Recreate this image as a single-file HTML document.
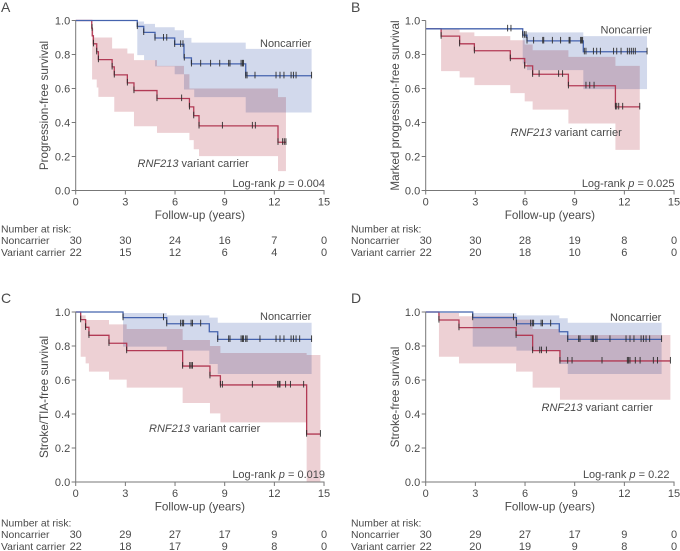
<!DOCTYPE html>
<html lang="en">
<head>
<meta charset="utf-8">
<title>Kaplan-Meier survival curves</title>
<style>
html,body{margin:0;padding:0;background:#fff;}
svg{display:block;font-family:"Liberation Sans",sans-serif;fill:#4a4a4a;}
</style>
</head>
<body>
<svg id="chart" xmlns="http://www.w3.org/2000/svg" width="680" height="551" viewBox="0 0 680 551"></svg>
<script>
const xTicks = [0, 3, 6, 9, 12, 15];
const yTicks = [0, 0.2, 0.4, 0.6, 0.8, 1.0];

// Panel A
const aNonTimes = [0, 3.72, 4.11, 4.79, 5.98, 6.54, 6.99, 10.27, 14.25];
const aNonSurv = [1, 0.965, 0.93, 0.897, 0.86, 0.78, 0.745, 0.675, 0.675];
const aNonBandTimes = [3.72, 4.13, 4.79, 5.98, 6.54, 6.99, 7.16, 10.27, 14.25];
const aNonUpper = [0.994, 0.98, 0.96, 0.943, 0.898, 0.87, 0.87, 0.833];
const aNonLower = [0.796, 0.767, 0.73, 0.684, 0.594, 0.594, 0.549, 0.459];
const aNonCensor = [3.72, 4.11, 4.79, 5.3, 5.5, 5.98, 6.34, 6.48, 6.56, 6.99, 7.55, 8.15, 8.7, 9.24, 9.32, 9.99, 10.07, 10.13, 10.27, 10.35, 10.83, 12.1, 12.34, 12.58, 13.01, 13.15, 13.31, 14.25];
const aVarTimes = [0, 0.97, 1.0, 1.07, 1.27, 1.37, 2.2, 2.33, 3.12, 3.52, 4.91, 6.87, 7.13, 7.45, 12.22, 12.7];
const aVarSurv = [1, 0.955, 0.91, 0.863, 0.816, 0.77, 0.727, 0.68, 0.633, 0.588, 0.541, 0.492, 0.44, 0.38, 0.284, 0.284];
const aVarBandTimes = [0.99, 1.07, 1.27, 1.37, 2.2, 2.33, 3.12, 3.52, 4.91, 6.54, 6.87, 7.13, 7.45, 12.22, 12.7];
const aVarUpper = [0.953, 0.9, 0.9, 0.9, 0.835, 0.835, 0.806, 0.767, 0.733, 0.684, 0.6, 0.6, 0.6, 0.549];
const aVarLower = [0.653, 0.653, 0.606, 0.551, 0.551, 0.463, 0.463, 0.378, 0.339, 0.339, 0.296, 0.243, 0.202, 0.114];
const aVarCensor = [0.99, 1.07, 1.27, 1.37, 2.2, 2.33, 3.12, 3.52, 4.91, 6.4, 6.87, 7.13, 7.45, 8.86, 10.67, 10.85, 12.22, 12.5, 12.6, 12.7];
const aRiskNon = [30, 30, 24, 16, 7, 0];
const aRiskVar = [22, 15, 12, 6, 4, 0];

// Panel B
const bNonTimes = [0, 5.86, 6.12, 9.52, 13.37];
const bNonSurv = [0.951, 0.914, 0.88, 0.816, 0.816];
const bNonBandTimes = [5.86, 6.12, 9.52, 13.37];
const bNonUpper = [0.93, 0.93, 0.908];
const bNonLower = [0.747, 0.708, 0.596];
const bNonCensor = [4.95, 5.15, 5.86, 5.96, 6.06, 6.12, 6.52, 7.07, 7.13, 7.65, 8.15, 8.66, 8.72, 9.36, 9.42, 9.48, 9.58, 9.68, 10.13, 10.33, 10.55, 11.35, 11.54, 11.8, 12.18, 12.3, 12.42, 12.54, 12.66, 13.37];
const bVarTimes = [0, 0.93, 2.05, 2.94, 5.11, 5.98, 6.46, 8.62, 11.46, 12.93];
const bVarSurv = [0.951, 0.908, 0.863, 0.822, 0.776, 0.733, 0.684, 0.616, 0.492, 0.492];
const bVarBandTimes = [0.93, 2.05, 2.94, 5.11, 5.98, 6.46, 8.62, 11.46, 12.93];
const bVarUpper = [0.951, 0.93, 0.908, 0.884, 0.859, 0.825, 0.786, 0.733];
const bVarLower = [0.702, 0.665, 0.62, 0.573, 0.524, 0.476, 0.394, 0.239];
const bVarCensor = [0.93, 2.05, 2.94, 5.11, 5.98, 6.46, 6.85, 8.03, 8.27, 8.62, 9.68, 9.91, 10.17, 11.46, 11.54, 11.66, 11.9, 12.93];
const bRiskNon = [30, 30, 28, 19, 8, 0];
const bRiskVar = [22, 20, 18, 10, 6, 0];

// Panel C
const cNonTimes = [0, 2.86, 5.5, 8.07, 8.58, 14.25];
const cNonSurv = [1, 0.967, 0.931, 0.884, 0.839, 0.839];
const cNonBandTimes = [2.86, 5.5, 8.07, 8.58, 14.25];
const cNonUpper = [0.994, 0.98, 0.967, 0.937];
const cNonLower = [0.796, 0.773, 0.694, 0.635];
const cNonCensor = [2.86, 5.3, 5.5, 6.34, 6.44, 6.52, 6.97, 7.05, 7.55, 8.58, 9.24, 9.32, 9.99, 10.07, 10.13, 10.27, 10.35, 11.13, 12.1, 12.34, 12.58, 13.01, 13.15, 13.31, 13.53, 14.25];
const cVarTimes = [0, 0.3, 0.6, 0.8, 2.01, 3.08, 6.46, 8.11, 8.74, 13.95, 14.78];
const cVarSurv = [1, 0.955, 0.91, 0.863, 0.816, 0.773, 0.682, 0.625, 0.571, 0.282, 0.282];
const cVarBandTimes = [0.3, 0.6, 0.8, 2.01, 3.08, 6.46, 8.11, 8.74, 13.95, 14.78];
const cVarUpper = [0.98, 0.953, 0.953, 0.927, 0.9, 0.835, 0.8, 0.759, 0.747];
const cVarLower = [0.737, 0.698, 0.649, 0.602, 0.555, 0.465, 0.404, 0.351, 0];
const cVarCensor = [0.3, 0.6, 0.8, 2.01, 3.08, 6.46, 6.89, 6.97, 7.05, 8.11, 8.74, 8.86, 10.67, 12.2, 12.28, 12.34, 12.68, 12.97, 13.77, 13.95, 14.78];
const cRiskNon = [30, 29, 27, 17, 9, 0];
const cRiskVar = [22, 18, 17, 9, 8, 0];

// Panel D
const dNonTimes = [0, 2.84, 5.48, 8.07, 8.58, 14.25];
const dNonSurv = [1, 0.967, 0.931, 0.884, 0.839, 0.839];
const dNonBandTimes = [2.84, 5.48, 8.07, 8.58, 14.25];
const dNonUpper = [0.994, 0.98, 0.963, 0.937];
const dNonLower = [0.796, 0.773, 0.694, 0.635];
const dNonCensor = [2.84, 5.3, 5.48, 6.34, 6.44, 6.52, 6.97, 7.05, 7.55, 8.58, 9.24, 9.32, 9.99, 10.07, 10.13, 10.27, 10.35, 11.13, 12.1, 12.34, 12.58, 13.01, 13.15, 13.31, 13.53, 14.25];
const dVarTimes = [0, 0.8, 2.01, 5.46, 6.46, 8.11, 14.78];
const dVarSurv = [1, 0.953, 0.908, 0.863, 0.773, 0.712, 0.712];
const dVarBandTimes = [0.8, 2.01, 5.46, 6.46, 8.11, 14.78];
const dVarUpper = [0.994, 0.975, 0.955, 0.9, 0.865];
const dVarLower = [0.737, 0.698, 0.649, 0.555, 0.484];
const dVarCensor = [0.8, 2.01, 5.46, 6.46, 6.89, 6.99, 7.29, 8.11, 8.58, 8.84, 10.65, 12.18, 12.26, 12.34, 12.66, 12.95, 13.75, 14.0, 14.78];
const dRiskNon = [30, 29, 27, 17, 9, 0];
const dRiskVar = [22, 20, 19, 9, 8, 0];

const svg = document.getElementById('chart');
const NS = 'http://www.w3.org/2000/svg';
const BLUE = '#4563ae', RED = '#b23a55', BLUEBAND = '#d2d9ec', REDBAND = '#edd0d4', AXIS = '#777', TXT = '#4a4a4a';

function make(tag, parent, attrs, text) {
  const el = document.createElementNS(NS, tag);
  for (const k in attrs) el.setAttribute(k, attrs[k]);
  if (text !== undefined) el.textContent = text;
  parent.appendChild(el);
  return el;
}
function label(parent, name, x, y, text, size, anchor) {
  const el = make('text', parent, {x: x, y: y, 'font-size': size, 'text-anchor': anchor || 'start', fill: TXT}, text);
  
  
  return el;
}

function drawBand(g, name, sx, sy, times, upper, lower, fill) {
  let top = '', bottom = '';
  for (let i = 0; i < upper.length; i++) {
    top += ' ' + sx(times[i]) + ',' + sy(upper[i]) + ' ' + sx(times[i + 1]) + ',' + sy(upper[i]);
    bottom = ' ' + sx(times[i + 1]) + ',' + sy(lower[i]) + ' ' + sx(times[i]) + ',' + sy(lower[i]) + bottom;
  }
  const band = make('polygon', g, {points: top + bottom, fill: fill, style: 'mix-blend-mode:multiply'});
  
  
}
function survAt(times, surv, t) {
  let s = surv[0];
  for (let i = 0; i < times.length; i++) if (times[i] <= t + 1e-6) s = surv[i];
  return s;
}
function drawCurve(g, name, sx, sy, times, surv, censor, color) {
  let d = 'M' + sx(times[0]) + ' ' + sy(surv[0]);
  for (let i = 1; i < times.length; i++) {
    d += ' H' + sx(times[i]) + ' V' + sy(surv[i]);
  }
  const line = make('path', g, {d: d, fill: 'none', stroke: color, 'stroke-width': 1.3});
  
  
  censor.forEach(function (t) {
    const yy = sy(survAt(times, surv, t));
    const tick = make('line', g, {x1: sx(t), x2: sx(t), y1: yy - 4, y2: yy + 2.6, stroke: '#2b2b2b', 'stroke-width': 0.9});
    
    
  });
}
function drawAxes(g, sx, sy, x0, y0, xLabelY, xTitleY) {
  const yAxis = make('line', g, {x1: x0, x2: x0, y1: sy(1), y2: y0, stroke: AXIS, 'stroke-width': 1});
  
  
  const xAxis = make('line', g, {x1: x0 - 4, x2: sx(15) + 0.5, y1: y0, y2: y0, stroke: AXIS, 'stroke-width': 1});
  
  
  yTicks.forEach(function (v) {
    const t = make('line', g, {x1: x0 - 4, x2: x0, y1: sy(v), y2: sy(v), stroke: AXIS, 'stroke-width': 1});
    
    
    label(g, 'y-tick-label', x0 - 5.5, sy(v) + 4, v.toFixed(1), 11, 'end');
  });
  xTicks.forEach(function (v) {
    const t = make('line', g, {x1: sx(v), x2: sx(v), y1: y0, y2: y0 + 4, stroke: AXIS, 'stroke-width': 1});
    
    
    label(g, 'x-tick-label', sx(v), xLabelY, String(v), 11, 'middle');
  });
  label(g, 'x-axis-title', sx(7.5), xTitleY, 'Follow-up (years)', 11.7, 'middle');
}
function drawRisk(g, sx, left, y, non, vari) {
  label(g, 'risk-table-title', left, y, 'Number at risk:', 10.4);
  label(g, 'risk-row-noncarrier-label', left, y + 11.7, 'Noncarrier', 10.4);
  label(g, 'risk-row-variant-label', left, y + 23.6, 'Variant carrier', 10.4);
  non.forEach(function (n, i) {
    label(g, 'risk-noncarrier-value', sx(xTicks[i]), y + 11.7, String(n), 11, 'middle');
  });
  vari.forEach(function (n, i) {
    label(g, 'risk-variant-value', sx(xTicks[i]), y + 23.6, String(n), 11, 'middle');
  });
}
function carrierLabel(g, x, y) {
  const t = label(g, 'variant-carrier-label', x, y, '', 11);
  const it = make('tspan', t, {'font-style': 'italic'}, 'RNF213');
  make('tspan', t, {}, ' variant carrier');
  return it;
}
function logRank(g, xRight, y, value) {
  const t = label(g, 'log-rank-label', xRight, y, 'Log-rank ', 11, 'end');
  make('tspan', t, {'font-style': 'italic'}, 'p');
  make('tspan', t, {}, ' = ' + value);
}

function panel(id, x0, y1, letterX, letterY, yTitle, titleX, titleY, non, vari, risk, noteNon, noteVar, noteP) {
  const g = make('g', svg, {});
  
  
  const y0 = y1 + 170;
  const sx = function (t) { return +(x0 + t * 16.555).toFixed(2); };
  const sy = function (s) { return +(y0 - s * 170).toFixed(2); };
  label(g, 'panel-letter', letterX, letterY, id, 14);
  drawBand(g, 'noncarrier-confidence-band', sx, sy, non[2], non[3], non[4], BLUEBAND);
  drawBand(g, 'variant-confidence-band', sx, sy, vari[2], vari[3], vari[4], REDBAND);
  drawCurve(g, 'variant-curve', sx, sy, vari[0], vari[1], vari[5], RED);
  drawCurve(g, 'noncarrier-curve', sx, sy, non[0], non[1], non[5], BLUE);
  drawAxes(g, sx, sy, x0, y0, y0 + 15, y0 + 28.5);
  const yt = label(g, 'y-axis-title', 0, 0, yTitle, 11.7, 'middle');
  yt.setAttribute('transform', 'translate(' + titleX + ' ' + titleY + ') rotate(-90)');
  label(g, 'noncarrier-label', noteNon[0], noteNon[1], 'Noncarrier', 11);
  carrierLabel(g, noteVar[0], noteVar[1]);
  logRank(g, noteP[0], noteP[1], noteP[2]);
  drawRisk(g, sx, risk[0], y0 + risk[3], risk[1], risk[2]);
}

panel('A', 75.7, 20.5, 1, 12, 'Progression-free survival', 48, 105.5,
  [aNonTimes, aNonSurv, aNonBandTimes, aNonUpper, aNonLower, aNonCensor],
  [aVarTimes, aVarSurv, aVarBandTimes, aVarUpper, aVarLower, aVarCensor],
  [1, aRiskNon, aRiskVar, 42], [260, 47], [137.5, 167], [325, 187, '0.004']);
panel('B', 425.7, 20.5, 351, 12, 'Marked progression-free survival', 399, 105.5,
  [bNonTimes, bNonSurv, bNonBandTimes, bNonUpper, bNonLower, bNonCensor],
  [bVarTimes, bVarSurv, bVarBandTimes, bVarUpper, bVarLower, bVarCensor],
  [351, bRiskNon, bRiskVar, 42], [600.5, 33.5], [510.5, 136], [674.5, 187, '0.025']);
panel('C', 75.7, 312, 1, 303, 'Stroke/TIA-free survival', 48, 397,
  [cNonTimes, cNonSurv, cNonBandTimes, cNonUpper, cNonLower, cNonCensor],
  [cVarTimes, cVarSurv, cVarBandTimes, cVarUpper, cVarLower, cVarCensor],
  [1, cRiskNon, cRiskVar, 44.5], [260, 320], [149, 432], [325, 478, '0.019']);
panel('D', 425.7, 312, 351, 303, 'Stroke-free survival', 399, 397,
  [dNonTimes, dNonSurv, dNonBandTimes, dNonUpper, dNonLower, dNonCensor],
  [dVarTimes, dVarSurv, dVarBandTimes, dVarUpper, dVarLower, dVarCensor],
  [351, dRiskNon, dRiskVar, 44.5], [610, 321], [541.5, 411], [669.5, 478, '0.22']);
</script>
</body>
</html>
